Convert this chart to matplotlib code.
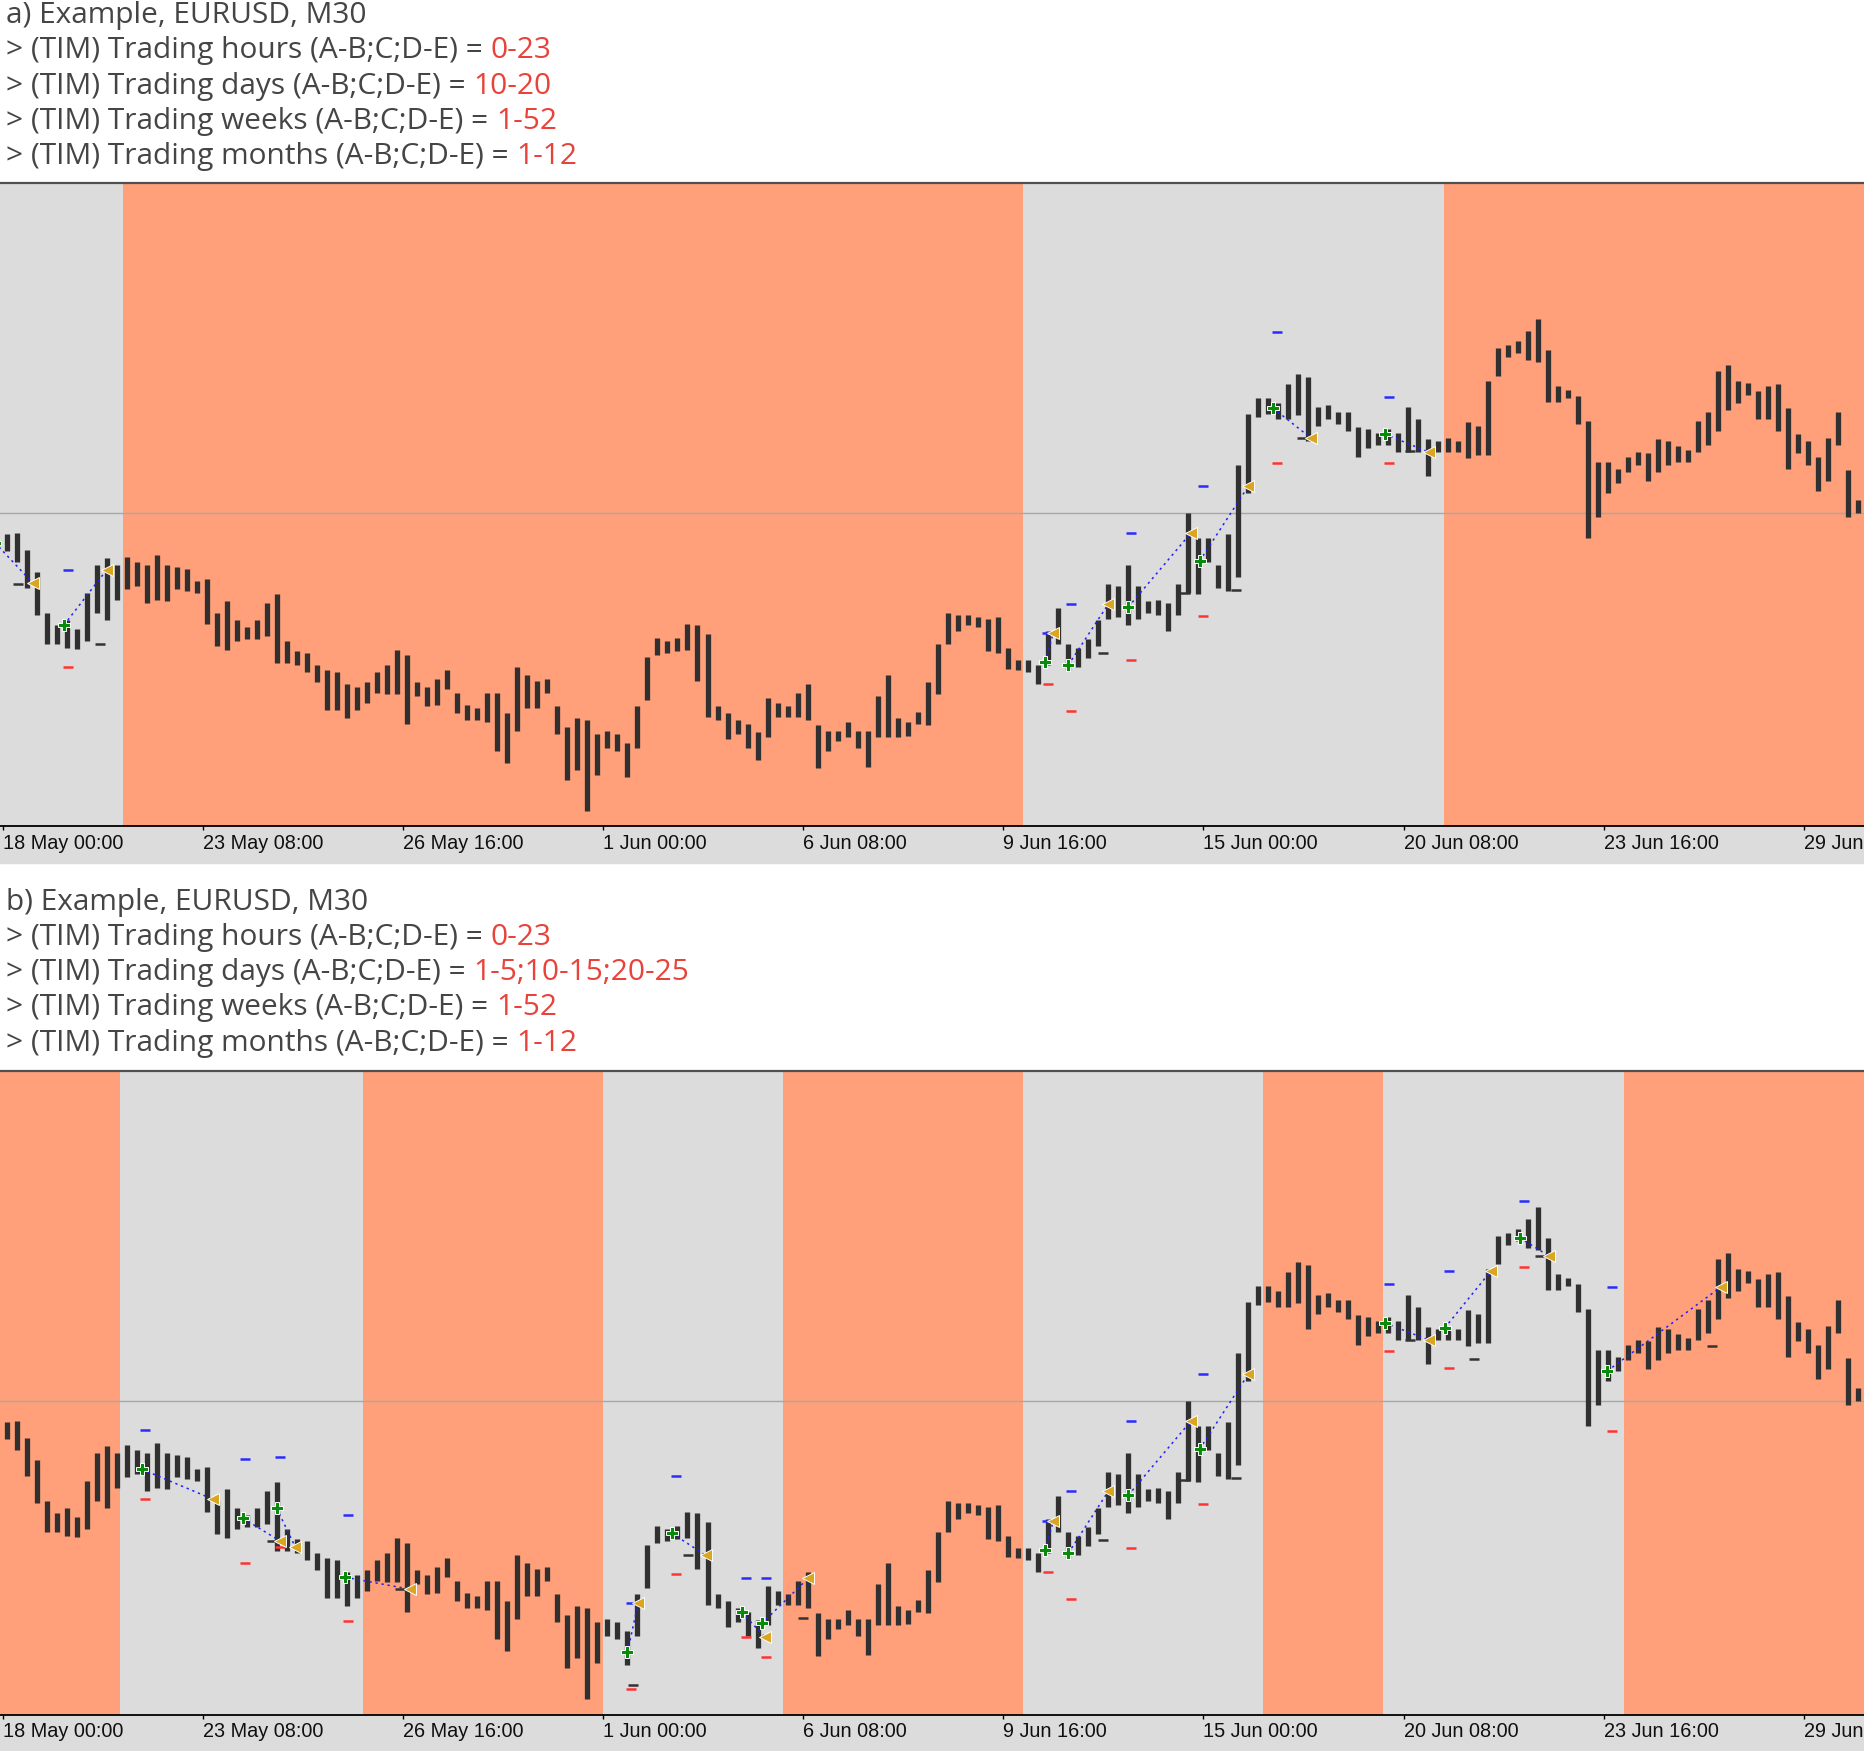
import matplotlib
matplotlib.use("Agg")
import matplotlib.pyplot as plt
from matplotlib.patches import Rectangle
import numpy as np

# time axis (bar index of M30 bars, 0 = 18 May 00:00)
tick_bars = [0, 160, 320, 480, 640, 800, 960, 1120, 1280, 1440]
tick_labels = ["18 May 00:00", "23 May 08:00", "26 May 16:00", "1 Jun 00:00", "6 Jun 08:00",
               "9 Jun 16:00", "15 Jun 00:00", "20 Jun 08:00", "23 Jun 16:00", "29 Jun"]

# price range of each 4-hour block (8 M30 bars), price in 1e-4 units
block_high = [10649, 10650, 10633, 10611, 10570, 10558, 10563, 10554, 10590, 10618,
              10625, 10618, 10626, 10621, 10618, 10628, 10618, 10616, 10614, 10602,
              10604, 10570, 10582, 10563, 10556, 10563, 10580, 10589, 10542, 10532,
              10530, 10518, 10513, 10511, 10499, 10496, 10501, 10511, 10518, 10533,
              10528, 10501, 10496, 10504, 10513, 10490, 10478, 10475, 10490, 10490,
              10470, 10516, 10508, 10502, 10504, 10477, 10456, 10465, 10463, 10449,
              10452, 10449, 10440, 10477, 10526, 10545, 10542, 10545, 10559, 10558,
              10549, 10477, 10470, 10463, 10459, 10451, 10485, 10480, 10477, 10490,
              10499, 10458, 10452, 10452, 10461, 10452, 10452, 10487, 10508, 10465,
              10461, 10471, 10501, 10539, 10570, 10568, 10568, 10566, 10564, 10566,
              10535, 10523, 10523, 10518, 10552, 10575, 10539, 10535, 10544, 10563,
              10599, 10597, 10618, 10597, 10582, 10583, 10580, 10599, 10670, 10645,
              10645, 10618, 10649, 10718, 10769, 10785, 10785, 10780, 10799, 10809,
              10806, 10776, 10778, 10771, 10771, 10756, 10754, 10750, 10754, 10750,
              10776, 10764, 10744, 10742, 10745, 10742, 10761, 10757, 10802, 10835,
              10838, 10842, 10852, 10864, 10833, 10797, 10793, 10787, 10762, 10721,
              10721, 10714, 10726, 10731, 10730, 10744, 10742, 10737, 10733, 10762,
              10771, 10812, 10818, 10802, 10800, 10792, 10797, 10799, 10775, 10749,
              10742, 10726, 10745, 10771, 10713, 10683, 10678]
block_low = [10632, 10621, 10595, 10568, 10539, 10539, 10535, 10534, 10542, 10570,
             10563, 10583, 10594, 10597, 10580, 10583, 10582, 10594, 10592, 10590,
             10559, 10537, 10533, 10542, 10544, 10544, 10547, 10520, 10520, 10518,
             10511, 10501, 10473, 10473, 10465, 10473, 10480, 10490, 10489, 10489,
             10459, 10487, 10477, 10478, 10494, 10470, 10463, 10463, 10461, 10432,
             10420, 10452, 10475, 10475, 10490, 10449, 10403, 10413, 10372, 10408,
             10435, 10432, 10406, 10435, 10483, 10528, 10530, 10532, 10533, 10502,
             10466, 10463, 10444, 10449, 10435, 10423, 10446, 10466, 10466, 10466,
             10463, 10415, 10432, 10442, 10446, 10435, 10416, 10446, 10446, 10446,
             10447, 10459, 10458, 10489, 10539, 10552, 10558, 10556, 10532, 10530,
             10514, 10513, 10511, 10499, 10518, 10539, 10513, 10516, 10525, 10537,
             10564, 10566, 10558, 10564, 10570, 10568, 10552, 10568, 10590, 10589,
             10621, 10595, 10592, 10606, 10690, 10766, 10769, 10764, 10764, 10768,
             10742, 10757, 10764, 10759, 10752, 10726, 10735, 10738, 10738, 10731,
             10731, 10731, 10707, 10731, 10731, 10731, 10725, 10728, 10728, 10807,
             10826, 10830, 10823, 10821, 10781, 10781, 10785, 10759, 10645, 10666,
             10690, 10700, 10711, 10718, 10702, 10711, 10718, 10721, 10721, 10731,
             10738, 10752, 10773, 10780, 10788, 10764, 10764, 10752, 10714, 10730,
             10718, 10692, 10702, 10738, 10666, 10670, 10670]
ref_level = 10670

# trading (grey) / non-trading (orange) periods, in bar index
spans_a = [(-10, 96, "grey"), (96, 816, "orange"), (816, 1152, "grey"), (1152, 1600, "orange")]
spans_b = [(-10, 94, "orange"), (94, 288, "grey"), (288, 480, "orange"), (480, 624, "grey"),
           (624, 816, "orange"), (816, 1008, "grey"), (1008, 1104, "orange"),
           (1104, 1296, "grey"), (1296, 1600, "orange")]

# trades: entry / exit points, take profit, stop loss and close levels
a_entry = [(-6, 10640), (49, 10558), (833.5, 10521), (852, 10518), (900, 10576),
           (957, 10622), (1015.5, 10775), (1105, 10749)]
a_exit = [(24, 10600), (83, 10613), (840, 10550), (884, 10579), (950, 10650),
          (996, 10697), (1046, 10745), (1140, 10731)]
a_tp = [(52, 10613), (835, 10550), (854, 10579), (902, 10650), (960, 10697),
        (1019, 10851), (1108.5, 10786)]
a_sl = [(52, 10516), (836, 10499), (854, 10472), (902, 10523), (960, 10567),
        (1019, 10720), (1108.5, 10720)]
a_close = [(12, 10599), (78, 10539), (880, 10530), (945, 10590), (986, 10593),
           (1039, 10745), (1125, 10732)]

b_entry = [(111, 10602), (192, 10553), (219, 10563), (274, 10494), (499.5, 10419),
           (535, 10538), (591, 10459), (607, 10448), (833.5, 10521), (852, 10518),
           (900, 10576), (957, 10622), (1105, 10748), (1153, 10743), (1213, 10833),
           (1283, 10700)]
b_exit = [(168, 10572), (222, 10530), (234, 10524), (326, 10482), (508, 10468),
          (562, 10516), (609.5, 10434), (644, 10493), (840, 10550), (884, 10580),
          (950, 10650), (996, 10697), (1140, 10731), (1190, 10800), (1236, 10815),
          (1374, 10784)]
b_tp = [(114, 10641), (194, 10612), (222, 10614), (276, 10556), (502, 10468),
        (538, 10595), (594, 10493), (610, 10493), (835, 10550), (854, 10580),
        (902, 10650), (960, 10697), (1108.5, 10787), (1156.5, 10800), (1216.5, 10870),
        (1286.5, 10784)]
b_sl = [(114, 10572), (194, 10508), (222, 10524), (276, 10450), (502, 10382),
        (538, 10497), (594, 10434), (610, 10414), (836, 10499), (854, 10472),
        (902, 10523), (960, 10567), (1108.5, 10720), (1156.5, 10703), (1216.5, 10804),
        (1286.5, 10640)]
b_close = [(215, 10530), (318, 10482), (504, 10386), (548, 10516), (640, 10453),
           (880, 10531), (945, 10591), (986, 10593), (1125, 10731), (1176, 10712),
           (1229, 10815), (1367, 10725)]

header_a = [("a) Example, EURUSD, M30", ""),
            ("> (TIM) Trading hours (A-B;C;D-E) = ", "0-23"),
            ("> (TIM) Trading days (A-B;C;D-E) = ", "10-20"),
            ("> (TIM) Trading weeks (A-B;C;D-E) = ", "1-52"),
            ("> (TIM) Trading months (A-B;C;D-E) = ", "1-12")]
header_b = [("b) Example, EURUSD, M30", ""),
            ("> (TIM) Trading hours (A-B;C;D-E) = ", "0-23"),
            ("> (TIM) Trading days (A-B;C;D-E) = ", "1-5;10-15;20-25"),
            ("> (TIM) Trading weeks (A-B;C;D-E) = ", "1-52"),
            ("> (TIM) Trading months (A-B;C;D-E) = ", "1-12")]

# ---- drawing ----
W, H = 1865, 1751
fig = plt.figure(figsize=(W / 100, H / 100), dpi=100)
fig.patch.set_facecolor("white")

GREY = "#DCDCDC"
ORANGE = "#FFA07A"
TEXT = "#454545"
RED = "#E8433B"
HFONT = ["Open Sans", "DejaVu Sans"]
TFONT = ["Liberation Sans", "DejaVu Sans"]

hi = np.array(block_high) / 1e4
lo = np.array(block_low) / 1e4
xs = np.arange(len(hi)) * 8 + 3.5


def px_y(y):  # pixel row from the top -> figure fraction
    return 1 - y / H


def draw_header(lines, y0):
    for i, (txt, val) in enumerate(lines):
        t = fig.text(6 / W, px_y(y0 + 35.3 * i), txt, fontsize=21.5, color=TEXT,
                     family=HFONT, va="baseline", ha="left")
        if val:
            plt.annotate(val, xy=(1, 0), xycoords=t, fontsize=21.5, color=RED,
                         family=HFONT, va="bottom", ha="left", annotation_clip=False)


def draw_panel(top, bottom, spans, entry, exit_, tp, sl, close):
    fig.patches.append(Rectangle((0, px_y(bottom + 37)), 1, 37 / H,
                                 transform=fig.transFigure, color=GREY, zorder=-5))
    ax = fig.add_axes([0, px_y(bottom), 1, (bottom - top) / H])
    ax.set_facecolor(GREY)
    for s0, s1, c in spans:
        ax.axvspan(s0, s1, color=GREY if c == "grey" else ORANGE, lw=0, zorder=0)
    ax.axhline(ref_level / 1e4, color="#A8A8A8", lw=1.0, zorder=1)
    ax.vlines(xs, lo, hi, color="#303030", lw=3.8, zorder=2)

    for (x0, y0), (x1, y1) in zip(entry, exit_):
        ax.plot([x0, x1], [y0 / 1e4, y1 / 1e4], color="#1f1fff", lw=1.1,
                ls=(0, (1.5, 2.5)), zorder=3)
    for pts, col in ((tp, "#2b2bff"), (sl, "#ff3333"), (close, "#333333")):
        ax.plot([p[0] for p in pts], [p[1] / 1e4 for p in pts], ls="none", marker="_",
                ms=7, mew=1.8, color=col, zorder=4)
    ax.plot([p[0] for p in entry], [p[1] / 1e4 for p in entry], ls="none", marker="P",
            ms=9, mfc="#0a8a0a", mec="white", mew=0.7, zorder=5)
    ax.plot([p[0] for p in exit_], [p[1] / 1e4 for p in exit_], ls="none", marker="<",
            ms=8.5, mfc="#DAA520", mec="white", mew=0.7, zorder=5)

    ax.set_xlim(-2.2, 1489)
    ax.set_ylim(1.0357, 1.1000)
    ax.set_yticks([])
    ax.set_xticks(tick_bars)
    ax.set_xticklabels(tick_labels, family=TFONT, fontsize=14.3, color="#101010")
    for lab in ax.get_xticklabels():
        lab.set_ha("left")
    ax.tick_params(axis="x", length=3, width=1, pad=2.5, color="black")
    for s in ("left", "right"):
        ax.spines[s].set_visible(False)
    ax.spines["top"].set_color("#505050")
    ax.spines["top"].set_linewidth(1.6)
    ax.spines["bottom"].set_color("black")
    ax.spines["bottom"].set_linewidth(1.3)
    return ax


draw_panel(183, 826, spans_a, a_entry, a_exit, a_tp, a_sl, a_close)
draw_panel(1070.5, 1714.5, spans_b, b_entry, b_exit, b_tp, b_sl, b_close)
draw_header(header_a, 23)
draw_header(header_b, 909.5)

fig.savefig("out.png", dpi=100, facecolor="white")
